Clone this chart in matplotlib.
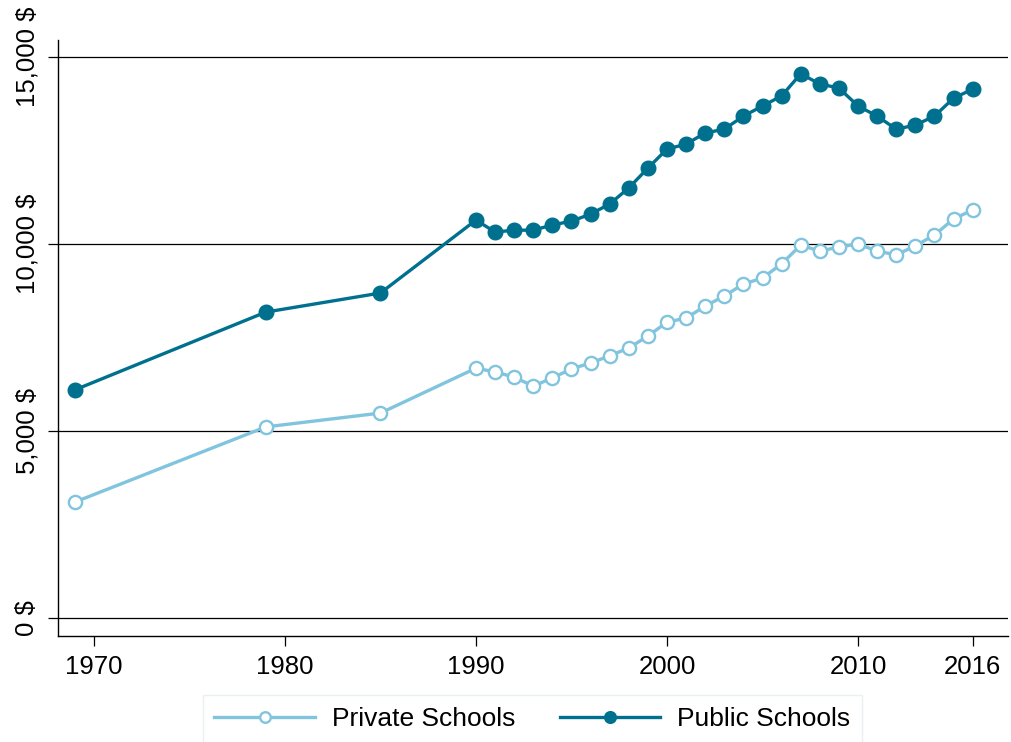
import matplotlib
matplotlib.use("Agg")
import matplotlib.pyplot as plt

plt.rcParams['font.family'] = ['Liberation Sans', 'DejaVu Sans']

years = [1969, 1979, 1985, 1990, 1991, 1992, 1993, 1994, 1995, 1996, 1997, 1998,
         1999, 2000, 2001, 2002, 2003, 2004, 2005, 2006, 2007, 2008, 2009, 2010,
         2011, 2012, 2013, 2014, 2015, 2016]
public = [6100, 8180, 8690, 10640, 10320, 10370, 10370, 10510, 10610, 10800, 11070,
          11500, 12030, 12540, 12670, 12970, 13070, 13420, 13690, 13960, 14550,
          14280, 14170, 13690, 13420, 13070, 13180, 13420, 13900, 14140]
private = [3100, 5110, 5480, 6680, 6580, 6440, 6200, 6420, 6660, 6820, 7010, 7220,
           7540, 7910, 8020, 8340, 8610, 8930, 9090, 9470, 9970, 9810, 9920, 10000,
           9810, 9710, 9950, 10240, 10670, 10910]
xticks = [1970, 1980, 1990, 2000, 2010, 2016]
yticks = [0, 5000, 10000, 15000]
ytick_labels = ["0 $", "5,000 $", "10,000 $", "15,000 $"]

c_pub = '#00708f'
c_priv = '#80c4dd'

fig = plt.figure(figsize=(10.11, 7.42), dpi=100)
ax = fig.add_axes([58/1011, 1 - 636/742, (1008 - 58)/1011, (636 - 40)/742])

for y in yticks:
    ax.axhline(y, color='black', lw=0.9, zorder=1)

ax.plot(years, private, color=c_priv, lw=2.4, marker='o', ms=9.5,
        mfc='white', mec=c_priv, mew=1.7, label='Private Schools', zorder=3)
ax.plot(years, public, color=c_pub, lw=2.4, marker='o', ms=10.5,
        mfc=c_pub, mec=c_pub, label='Public Schools', zorder=4)

ax.set_xlim(1968.12, 2017.85)
ax.set_ylim(-481, 15455)
ax.set_xticks(xticks)
ax.set_xticklabels([str(x) for x in xticks], fontsize=18.5)
ax.set_yticks(yticks)
ax.set_yticklabels(ytick_labels, fontsize=18.5, rotation=90, va='center')

for s in ['top', 'right']:
    ax.spines[s].set_visible(False)
for s in ['left', 'bottom']:
    ax.spines[s].set_linewidth(1.0)
    ax.spines[s].set_color('black')
ax.tick_params(axis='both', length=7.5, width=0.9, color='black')
ax.tick_params(axis='x', pad=6)
ax.tick_params(axis='y', pad=6)

leg = fig.legend(loc='upper center', bbox_to_anchor=(532.5/1011, 1 - 695/742),
                 ncol=2, fontsize=19, frameon=True, fancybox=False,
                 handlelength=3.8, handletextpad=0.65, columnspacing=1.7,
                 borderpad=0.45, borderaxespad=0, markerscale=0.8)
leg.get_frame().set_edgecolor('#e4ecef')
leg.get_frame().set_linewidth(1.0)

fig.savefig('out.png', dpi=100)
